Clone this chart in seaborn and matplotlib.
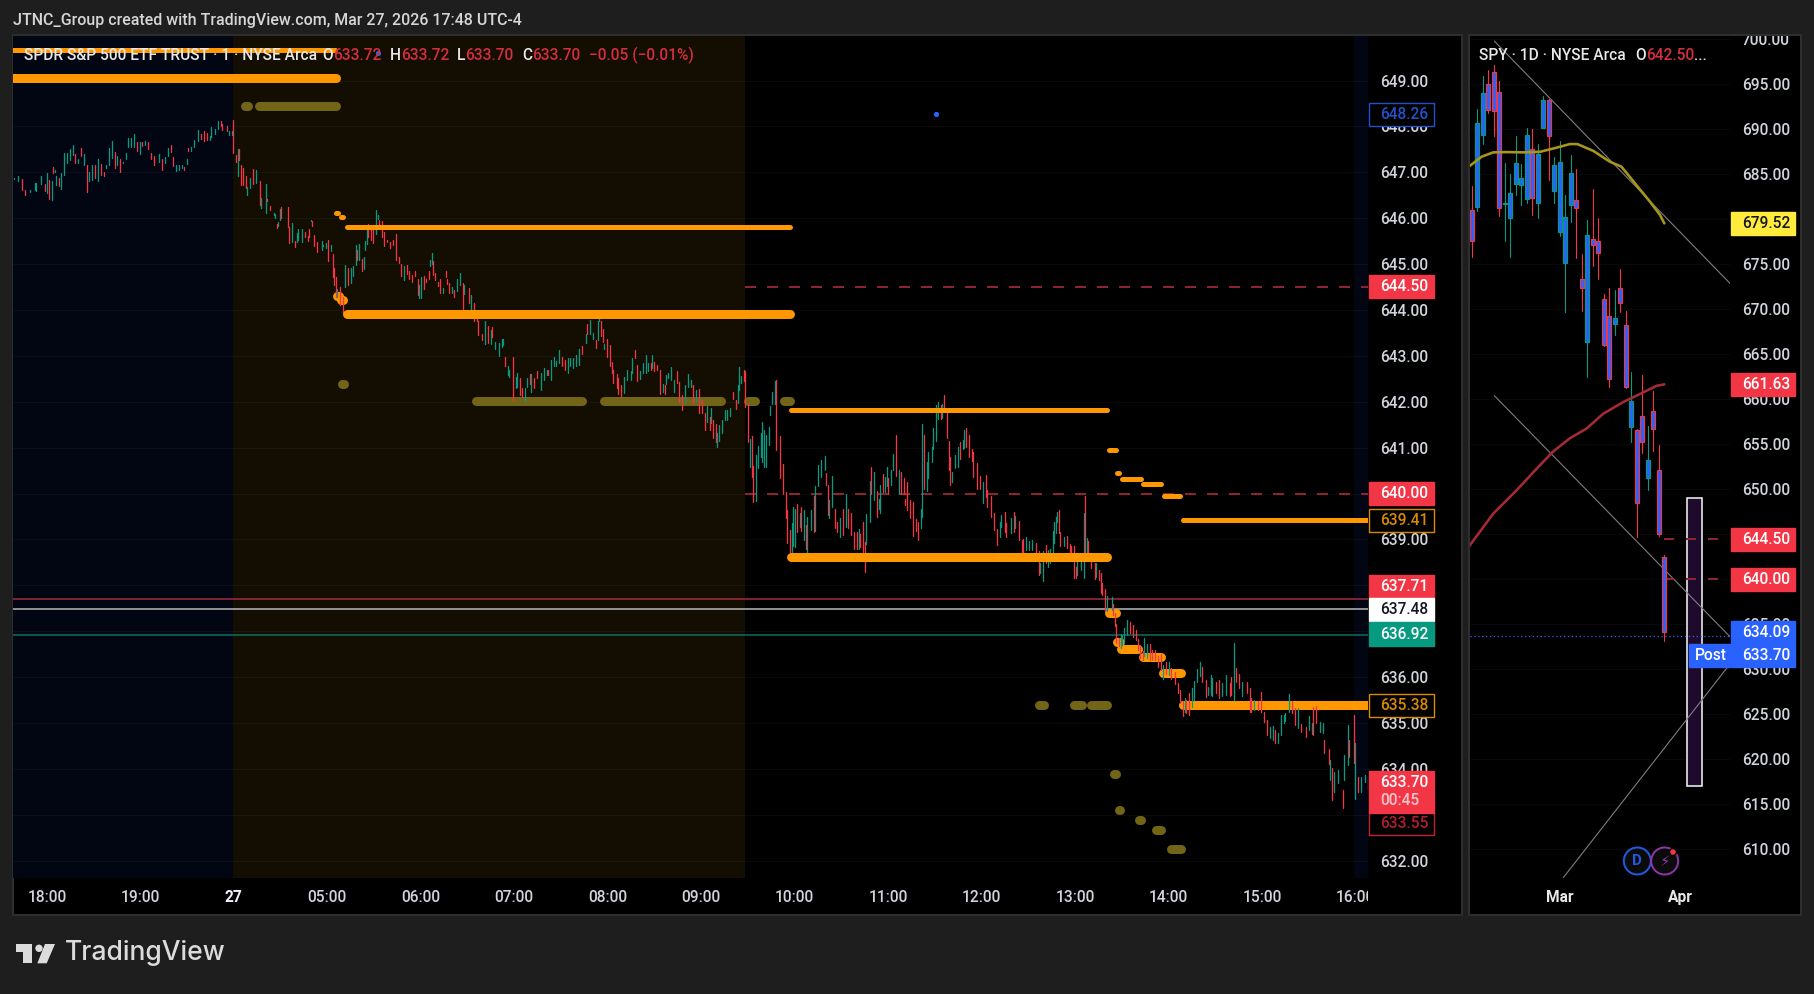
import numpy as np
import pandas as pd
import seaborn as sns
import matplotlib
matplotlib.use("Agg")
import matplotlib.pyplot as plt
from matplotlib.patches import Rectangle, Circle, Polygon
from matplotlib.transforms import Bbox, IdentityTransform, blended_transform_factory

# one minute candles: (minute after 18:00, low, high, direction)
overnight_bars = [
    (-21,646.85,646.87,'u'),(-19,646.80,646.92,'u'),(-16,646.62,646.86,'d'),(-14,646.51,646.62,'d'),(-11,646.56,646.62,'u'),
    (-8,646.62,646.76,'u'),(-7,646.59,646.76,'u'),(-4,646.75,646.91,'u'),(-1,646.59,646.75,'d'),(0,646.54,646.98,'u'),
    (1,646.42,646.83,'d'),(3,646.40,646.82,'u'),(4,646.98,647.12,'d'),(5,647.00,647.05,'u'),(6,646.72,646.93,'u'),
    (8,646.70,646.87,'d'),(9,646.64,646.98,'u'),(11,646.94,647.41,'u'),(13,647.20,647.41,'u'),(15,647.27,647.50,'u'),
    (17,647.38,647.60,'u'),(18,647.20,647.40,'d'),(20,647.20,647.29,'u'),(22,647.36,647.54,'d'),(24,647.16,647.40,'u'),
    (26,646.58,647.16,'d'),(27,646.80,647.00,'u'),(29,646.83,647.16,'u'),(31,646.87,647.16,'d'),(33,646.80,647.28,'u'),
    (35,646.94,647.18,'d'),(37,646.92,647.00,'d'),(38,647.09,647.16,'u'),(40,647.16,647.52,'u'),(42,647.31,647.68,'u'),
    (44,647.09,647.45,'d'),(45,647.16,647.36,'u'),(47,647.00,647.28,'d'),(49,647.21,647.23,'u'),(51,647.28,647.41,'u'),
    (52,647.56,647.74,'u'),(54,647.56,647.74,'u'),(56,647.55,647.84,'u'),(58,647.47,647.67,'d'),(60,647.40,647.67,'u'),
    (61,647.57,647.67,'d'),(63,647.60,647.68,'u'),(65,647.50,647.65,'d'),(67,647.28,647.43,'d'),(69,647.16,647.36,'d'),
    (72,647.23,647.40,'u'),(74,647.05,647.28,'d'),(76,647.21,647.34,'u'),(78,647.36,647.54,'u'),(80,647.45,647.60,'d'),
    (81,647.14,647.34,'d'),(83,647.03,647.17,'u'),(85,647.04,647.16,'u'),(87,647.09,647.16,'u'),(88,647.05,647.11,'d'),
    (90,647.18,647.28,'u'),(91,647.47,647.54,'d'),(93,647.47,647.56,'u'),(95,647.55,647.71,'u'),(97,647.68,647.92,'u'),
    (99,647.72,647.84,'d'),(101,647.69,647.89,'d'),(103,647.71,647.85,'d'),(105,647.71,647.79,'u'),(106,647.78,647.98,'u'),
    (108,647.84,647.94,'u'),(110,647.94,648.12,'u'),(112,648.01,648.12,'d'),(113,647.92,648.05,'d'),(116,647.89,648.00,'d'),
    (117,647.81,647.89,'u'),(119,647.81,647.89,'u'),(120,647.43,648.14,'d'),(122,647.23,647.38,'d'),(123,646.91,647.50,'u'),
    (124,647.27,647.50,'d'),(125,646.72,647.16,'d'),(126,646.72,647.09,'d'),(128,646.65,646.91,'d'),(129,646.51,646.69,'u'),
    (131,646.65,646.88,'u'),(133,646.75,647.07,'d'),(135,646.76,647.04,'u'),(137,646.29,646.81,'d'),(138,646.22,646.43,'u'),
    (141,646.11,646.75,'u'),(142,646.38,646.41,'d'),(144,646.18,646.27,'d'),(146,646.07,646.11,'u'),(147,646.00,646.09,'u'),
    (148,645.79,645.87,'d'),(149,645.83,645.92,'u'),(150,645.96,646.19,'u'),(151,646.00,646.24,'d'),(153,646.30,646.32,'u'),
    (155,645.80,646.25,'d'),(156,645.47,645.80,'d'),(158,645.49,645.89,'u'),(160,645.38,645.50,'d'),(161,645.49,645.67,'u'),
    (162,645.52,645.76,'u'),(164,645.49,645.76,'u'),(166,645.60,645.71,'d'),(168,645.51,645.61,'d'),(169,645.60,645.76,'d'),
    (170,645.94,645.96,'u'),(171,645.82,645.94,'d'),(172,645.39,645.63,'d'),(174,645.27,645.49,'d'),(177,645.31,645.50,'u'),
    (178,645.39,645.42,'u'),(180,645.34,645.45,'u'),(181,645.07,645.52,'d'),(183,645.29,645.42,'u'),(184,644.72,645.22,'d'),
    (185,644.54,644.91,'d'),(186,644.29,644.72,'d'),(187,644.29,644.46,'u'),(189,644.11,644.51,'d'),(191,643.93,644.29,'d'),
    (192,644.51,644.98,'u'),(194,644.54,644.91,'d'),(196,644.58,644.91,'u'),
]
premarket_bars = [
    (197,644.73,644.95,'u'),(199,644.98,645.42,'u'),(200,645.09,645.31,'d'),(201,645.09,645.44,'u'),(203,644.84,645.11,'d'),
    (204,644.90,645.16,'u'),(205,645.31,645.51,'u'),(206,645.43,645.82,'u'),(207,645.60,645.88,'d'),(209,645.53,645.76,'d'),
    (210,645.47,645.76,'d'),(212,645.65,646.18,'u'),(213,645.98,646.07,'u'),(214,645.88,645.96,'d'),(216,645.59,645.93,'d'),
    (217,645.40,645.71,'d'),(219,645.49,645.53,'d'),(221,645.36,645.49,'d'),(223,645.42,645.53,'d'),(225,645.09,645.66,'d'),
    (227,645.03,645.15,'d'),(228,644.73,645.00,'d'),(230,644.66,644.96,'u'),(232,644.79,644.98,'d'),(233,644.68,644.86,'d'),
    (235,644.61,644.76,'d'),(237,644.74,644.85,'d'),(239,644.33,644.67,'d'),(240,644.27,644.55,'u'),(241,644.27,644.71,'u'),
    (243,644.46,644.74,'d'),(244,644.60,644.68,'d'),(246,644.68,644.86,'d'),(247,644.95,645.08,'u'),(248,645.00,645.24,'u'),
    (249,644.76,645.07,'d'),(250,644.66,644.80,'d'),(252,644.52,644.62,'d'),(253,644.38,644.68,'d'),(255,644.38,644.47,'u'),
    (257,644.71,644.84,'d'),(258,644.57,644.68,'d'),(259,644.38,644.58,'d'),(261,644.38,644.50,'u'),(262,644.28,644.44,'d'),
    (264,644.42,644.68,'u'),(266,644.55,644.80,'u'),(268,644.02,644.58,'d'),(269,644.35,644.55,'u'),(272,644.15,644.47,'d'),
    (273,644.00,644.33,'u'),(275,643.75,644.15,'d'),(277,643.75,643.93,'d'),(278,643.46,643.75,'d'),(280,643.35,643.47,'d'),
    (282,643.26,643.76,'u'),(284,643.27,643.65,'d'),(286,643.26,643.56,'u'),(287,643.42,643.64,'d'),(289,643.16,643.31,'u'),
    (291,643.00,643.27,'u'),(293,643.20,643.37,'u'),(294,643.24,643.37,'u'),(295,642.79,642.98,'d'),(297,642.58,642.77,'u'),
    (298,642.55,642.69,'u'),(300,642.04,642.98,'d'),(302,642.31,642.55,'u'),(303,642.33,642.62,'u'),(305,642.15,642.51,'d'),
    (306,642.11,642.29,'d'),(308,642.02,642.29,'u'),(309,642.33,642.51,'u'),(311,642.39,642.61,'d'),(312,642.22,642.61,'u'),
    (314,642.29,642.51,'d'),(316,642.51,642.66,'d'),(318,642.26,642.62,'u'),(320,642.47,642.73,'u'),(322,642.58,642.69,'u'),
    (323,642.58,642.69,'d'),(325,642.47,642.91,'u'),(327,642.79,642.98,'u'),(328,642.79,642.89,'u'),(330,642.84,643.13,'u'),
    (332,642.77,642.98,'d'),(334,642.69,642.91,'d'),(336,642.62,642.95,'u'),(337,642.77,642.95,'u'),(339,642.73,642.96,'u'),
    (341,642.79,643.02,'u'),(343,642.80,643.16,'u'),(345,643.04,643.22,'d'),(347,643.29,643.47,'u'),(348,643.47,643.70,'d'),
    (350,643.47,643.78,'u'),(352,643.36,643.49,'u'),(354,643.18,643.35,'d'),(355,643.35,643.75,'u'),(356,643.75,643.89,'u'),
    (357,643.43,643.75,'d'),(358,643.31,643.58,'d'),(359,643.15,643.26,'u'),(361,642.97,643.36,'d'),(363,642.77,643.24,'d'),
    (364,642.62,642.87,'d'),(365,642.40,642.69,'d'),(367,642.29,642.61,'d'),(368,642.18,642.51,'d'),(370,642.11,642.37,'d'),
    (372,642.20,642.55,'u'),(374,642.47,642.69,'u'),(376,642.47,642.66,'u'),(377,642.62,642.96,'u'),(379,642.95,643.13,'d'),
    (380,642.46,642.80,'d'),(382,642.49,642.66,'u'),(384,642.63,642.84,'u'),(386,642.62,643.02,'u'),(387,642.68,642.85,'u'),
    (389,642.69,642.85,'d'),(390,642.73,643.02,'u'),(391,642.68,642.86,'d'),(393,642.69,642.80,'d'),(395,642.18,642.69,'d'),
    (397,642.22,642.39,'u'),(398,642.17,642.37,'d'),(399,642.39,642.58,'u'),(400,642.51,642.63,'u'),(402,642.47,642.75,'u'),
    (404,642.22,642.47,'u'),(406,642.40,642.68,'d'),(407,642.00,642.44,'d'),(409,641.81,642.15,'d'),(411,641.97,642.37,'u'),
    (413,642.33,642.61,'u'),(415,642.33,642.47,'u'),(416,641.97,642.37,'d'),(418,642.00,642.26,'u'),(420,641.75,642.27,'d'),
    (422,641.75,642.04,'d'),(424,641.38,641.76,'d'),(425,641.57,641.91,'u'),(427,641.38,641.67,'d'),(428,641.53,641.86,'u'),
    (429,641.22,641.60,'d'),(431,641.13,641.51,'d'),(432,641.02,641.31,'u'),(433,641.15,641.49,'u'),(435,641.31,641.60,'u'),
    (437,641.60,641.82,'u'),(438,641.60,641.81,'u'),(440,641.69,641.86,'u'),(442,642.06,642.22,'d'),(444,641.84,642.04,'d'),
    (445,641.98,642.37,'u'),(446,642.26,642.76,'u'),
]
midday_bars = [
    (447,642.40,642.56,'u'),(449,642.46,642.69,'d'),(450,641.89,642.68,'d'),(452,641.13,641.96,'d'),(453,640.58,641.18,'u'),
    (454,640.37,641.25,'d'),(455,639.82,640.60,'d'),(457,639.84,640.84,'u'),(458,640.55,641.03,'u'),(460,640.80,641.31,'u'),
    (461,640.69,641.56,'u'),(462,640.58,641.38,'u'),(463,640.57,641.27,'u'),(465,641.06,641.46,'u'),(466,641.71,641.91,'u'),
    (467,641.96,642.22,'u'),(469,641.96,642.46,'u'),(470,640.95,642.47,'d'),(472,640.33,641.25,'d'),(474,640.00,640.64,'d'),
    (476,639.46,640.04,'d'),(477,638.93,639.65,'d'),(479,638.62,639.20,'d'),(480,638.69,639.36,'u'),(481,638.85,639.71,'u'),
    (482,638.84,639.67,'u'),(483,639.17,639.78,'d'),(485,639.27,639.58,'u'),(486,639.18,639.71,'d'),(488,638.98,639.64,'u'),
    (489,638.80,639.31,'d'),(490,638.69,639.49,'u'),(492,639.20,639.64,'u'),(494,639.17,639.94,'d'),(495,639.19,640.16,'u'),
    (497,640.16,640.62,'u'),(499,640.37,640.73,'u'),(501,640.51,640.82,'u'),(502,640.18,640.44,'d'),(503,639.53,640.18,'d'),
    (504,639.46,639.86,'u'),(506,639.71,640.38,'u'),(508,639.24,639.67,'d'),(509,639.17,639.38,'d'),(511,639.06,639.46,'u'),
    (513,639.09,639.66,'d'),(515,639.27,640.00,'u'),(516,639.24,639.67,'d'),(518,639.09,639.57,'d'),(520,638.80,639.17,'d'),
    (522,638.80,639.17,'d'),(523,638.79,639.22,'u'),(524,638.84,639.11,'d'),(526,638.73,639.38,'d'),(527,638.30,638.95,'d'),
    (528,638.91,639.55,'u'),(530,639.38,640.28,'u'),(531,640.00,640.58,'d'),(533,639.86,640.47,'u'),(535,639.48,640.06,'d'),
    (536,639.67,639.89,'u'),(537,639.57,640.18,'u'),(539,640.04,640.42,'d'),(540,640.04,640.36,'u'),(541,640.16,640.58,'u'),
    (542,640.00,640.35,'d'),(544,640.18,640.51,'u'),(545,640.51,640.87,'u'),(547,640.38,641.27,'d'),(549,640.00,640.51,'u'),
    (550,640.00,640.47,'d'),(552,640.00,640.33,'d'),(553,639.75,639.89,'d'),(554,639.64,640.26,'d'),(556,639.46,639.86,'d'),
    (558,639.07,639.82,'d'),(560,639.19,639.44,'d'),(561,638.98,639.38,'d'),(563,639.24,639.67,'u'),(564,639.49,641.51,'u'),
    (565,640.11,641.27,'d'),(567,640.06,640.69,'u'),(568,640.35,640.91,'u'),(570,640.69,641.02,'u'),(571,640.98,641.42,'u'),
    (573,641.14,641.93,'u'),(574,641.62,642.00,'u'),(576,641.62,641.93,'d'),(577,641.64,641.96,'u'),(578,641.82,642.15,'d'),
    (580,641.20,641.75,'d'),(581,640.51,641.14,'d'),(582,640.18,640.80,'d'),(583,640.26,640.47,'u'),(585,640.55,640.84,'u'),
    (587,640.57,641.01,'u'),(588,640.76,641.13,'d'),(590,640.98,641.16,'u'),(591,641.00,641.38,'u'),(592,641.02,641.42,'d'),
    (594,640.80,641.27,'d'),(596,640.71,640.98,'d'),(597,640.37,640.91,'d'),(599,640.11,640.66,'d'),(601,640.11,640.38,'d'),
    (603,639.80,640.26,'u'),(605,639.93,640.40,'d'),(606,639.70,640.07,'d'),(608,639.49,639.94,'d'),(610,639.20,639.57,'d'),
    (612,638.87,639.22,'d'),(614,639.06,639.39,'u'),(615,639.27,639.53,'u'),(617,639.17,639.60,'d'),(618,639.06,639.35,'d'),
    (621,639.13,639.46,'u'),(623,639.17,639.60,'d'),(624,639.24,639.51,'u'),(626,638.98,639.40,'d'),(628,638.58,638.98,'d'),
    (629,638.69,639.02,'d'),(631,638.77,639.06,'u'),
]
afternoon_bars = [
    (633,638.77,638.97,'u'),(635,638.77,638.99,'u'),(637,638.66,638.93,'d'),(639,638.23,638.74,'d'),(640,638.26,638.48,'u'),
    (642,638.10,638.74,'u'),(644,638.48,638.88,'d'),(645,638.41,638.77,'u'),(646,638.48,638.80,'u'),(648,638.70,639.19,'u'),
    (649,638.92,639.37,'u'),(650,639.14,639.50,'u'),(651,639.37,639.59,'u'),(652,639.14,639.65,'d'),(653,638.85,639.17,'d'),
    (655,638.85,639.06,'u'),(657,638.81,639.08,'d'),(659,638.69,638.90,'d'),(660,638.66,638.85,'d'),(662,638.17,638.86,'d'),
    (663,638.17,638.41,'d'),(664,638.23,638.50,'u'),(666,638.34,638.59,'u'),(668,638.17,639.57,'u'),(669,638.59,639.95,'d'),
    (670,638.55,639.03,'u'),(671,638.55,638.96,'d'),(673,638.37,638.70,'d'),(675,638.14,638.48,'d'),(676,638.19,638.48,'u'),
    (678,638.12,638.34,'d'),(679,637.83,638.26,'d'),(680,637.79,638.05,'d'),(682,637.45,637.92,'d'),(683,637.45,637.76,'u'),
    (686,637.46,637.74,'u'),(687,637.36,637.60,'d'),(688,637.12,637.39,'d'),(689,636.74,637.16,'d'),(691,636.67,636.85,'d'),
    (692,636.63,636.94,'u'),(693,636.70,636.92,'u'),(694,636.74,637.06,'u'),(696,636.92,637.25,'u'),(698,636.96,637.21,'d'),
    (700,636.87,637.14,'d'),(702,636.80,637.03,'d'),(703,636.59,636.83,'d'),(704,636.41,636.70,'d'),(706,636.37,636.56,'d'),
    (707,636.45,636.85,'u'),(709,636.41,636.72,'u'),(711,636.37,636.72,'d'),(712,636.37,636.59,'d'),(714,636.37,636.59,'d'),
    (716,636.23,636.45,'d'),(718,636.16,636.51,'d'),(719,635.97,636.27,'u'),(721,636.06,636.34,'d'),(723,636.05,636.34,'u'),
    (724,635.97,636.21,'d'),(727,635.85,636.12,'d'),(729,635.65,635.87,'d'),(730,635.43,635.72,'d'),(732,635.15,635.49,'d'),
    (733,635.25,635.54,'u'),(734,635.21,635.50,'d'),(736,635.17,635.65,'d'),(738,635.36,635.76,'u'),(739,635.50,635.92,'u'),
    (741,635.90,636.17,'u'),(743,636.03,636.34,'u'),(744,635.90,636.23,'d'),(747,635.57,635.94,'d'),(748,635.61,635.79,'u'),
]
closing_bars = [
    (750,635.61,636.05,'u'),(751,635.58,635.98,'u'),(753,635.65,635.90,'d'),(755,635.54,635.94,'d'),(757,635.58,635.87,'u'),
    (760,635.61,636.05,'u'),(762,635.58,635.87,'d'),(763,635.61,636.01,'d'),(765,635.50,636.75,'u'),(766,635.90,636.19,'d'),
    (768,635.76,636.07,'d'),(770,635.58,635.90,'u'),(773,635.65,635.90,'d'),(775,635.25,635.76,'d'),(776,635.25,635.54,'d'),
    (778,635.28,635.50,'u'),(780,635.28,635.47,'d'),(782,635.25,635.68,'d'),(784,635.03,635.25,'d'),(786,634.74,635.07,'d'),
    (788,634.67,634.92,'u'),(790,634.63,634.94,'u'),(791,634.56,634.85,'d'),(793,634.56,634.78,'u'),(795,634.74,635.18,'u'),
    (797,634.99,635.18,'u'),(798,635.05,635.21,'u'),(800,635.25,635.63,'u'),(802,635.21,635.47,'d'),(804,634.96,635.32,'d'),
    (806,634.89,635.32,'u'),(808,634.81,634.98,'d'),(811,634.70,634.92,'d'),(813,634.85,635.15,'u'),(815,634.76,634.99,'u'),
    (816,634.74,635.36,'d'),(818,634.99,635.37,'d'),(820,634.81,635.03,'u'),(822,634.78,634.99,'u'),(823,634.34,634.63,'d'),
    (826,634.10,634.43,'d'),(827,633.76,634.19,'u'),(828,633.32,634.01,'d'),(829,633.50,633.94,'u'),(832,633.69,633.98,'u'),
    (835,633.14,633.55,'d'),(836,633.76,634.30,'u'),(838,634.08,634.96,'u'),(839,634.27,634.63,'d'),(842,634.12,635.18,'d'),
    (843,633.34,634.56,'u'),(845,633.50,633.83,'d'),(847,633.50,633.83,'u'),(849,633.72,633.87,'u'),(851,633.54,633.83,'d'),
]

# indicator levels on the 1 minute chart: (price, first minute, last minute)
thick_levels_top = [(643.91,193,479),(638.61,479.7,683.3)]
thin_levels_top = [(645.80,193,478.8),(641.82,479.7,683.3)]
thin_levels = [(649.66,-30,185.9),(646.12,186.5,187.8),(646.03,189.6,190.8),(640.94,684,689),(640.44,689.4,690.5),
               (640.31,693,705.2),(640.20,706.5,717.5),(639.94,720,730.3),(639.42,732.3,860)]
thick_levels = [(649.05,-30,186.5),(644.31,187,188.1),(644.22,189.7,190.8),(637.40,684,689),(636.76,689.7,691.7),
                (636.61,692.3,703.3),(636.43,705.9,718.1),(636.08,719.4,731),(635.39,732.3,860)]
olive_levels = [(648.44,127.9,129.8),(648.44,136.9,186.5),(642.38,190,191.1),(642.01,276.7,345),(642.01,359.2,434.6),
                (642.01,452,456.5),(642.01,474.6,479),(635.39,638.9,642.7),(635.39,662,667.2),(635.39,673,683.3),
                (633.90,687.8,689.1),(633.10,690.5,691.6),(632.88,703.9,705.2),(632.66,714.9,718.1),(632.25,724.5,731)]
flat_lines = [(637.71,'#9c2a38'),(637.48,'#b2b2b2'),(636.92,'#0b6b5b')]
dashed_prices = [644.50,640.00]
blue_dots = [(213,649.60),(573,648.26)]

time_ticks = [-0.1,60.1,120.3,180.6,240.8,301.0,361.3,421.5,481.7,542.0,602.2,662.4,722.7,782.9,843.1]
time_labels = ['18:00','19:00','27','05:00','06:00','07:00','08:00','09:00','10:00','11:00','12:00','13:00','14:00','15:00','16:00']
left_prices = list(range(632,650))
right_prices = list(range(610,705,5))

# daily candles: day number with Mar 27 as 0
day_num = list(range(-35,1))
day_open = [681.0,681.4,689.4,695.0,696.4,694.2,681.73,680.1,683.95,683.85,682.3,687.85,681.85,690.2,693.3,683.1,678.6,675.1,681.6,682.1,673.4,666.4,677.8,677.55,671.2,669.3,668.4,672.4,668.3,656.95,656.6,658.1,651.3,658.65,652.1,642.44]
day_close = [677.6,690.66,694.0,692.1,692.0,681.3,681.85,682.9,686.3,684.55,689.4,682.4,687.3,693.25,689.3,686.0,686.4,680.3,685.1,681.3,672.4,678.3,677.2,676.3,666.0,662.3,669.0,670.75,661.4,659.8,648.5,655.3,653.25,656.7,645.03,634.1]
day_high = [683.7,692.3,695.9,696.6,697.2,695.4,686.3,685.0,689.25,686.2,690.1,690.0,688.4,693.7,693.4,686.95,688.7,682.7,687.15,685.6,676.15,679.9,683.4,680.1,671.7,672.4,672.15,674.5,669.8,663.0,656.7,662.7,657.0,660.95,654.9,642.7]
day_low = [675.8,680.9,688.4,691.8,689.25,680.4,677.6,675.8,682.7,681.6,681.85,680.5,680.1,690.1,684.4,681.8,678.1,669.7,679.75,675.7,669.8,662.5,674.8,673.4,665.95,661.4,667.1,669.7,661.3,655.3,644.7,654.0,649.9,654.3,644.85,633.18]

yellow_ma_day = [-35.45,-33.2,-31.1,-28.7,-25.6,-22.6,-19.6,-17.2,-15.8,-12.9,-9.9,-7.8,-5.6,-2.6,-0.8,0]
yellow_ma = [685.9,686.96,687.44,687.47,687.44,687.5,687.96,688.36,688.36,687.6,686.4,685.85,684.2,681.95,680.5,679.55]
red_ma_day = [-35.45,-31.1,-26.85,-23.2,-20.2,-17.2,-14.1,-11.1,-7.45,-4.4,-1.4,0]
red_ma = [643.7,647.3,649.9,652.3,654.2,655.66,656.77,658.4,659.7,660.6,661.5,661.66]
trend_lines = [((-30.9,11.94),(699.8,672.88)),((-30.9,11.94),(660.4,633.62)),((-18.36,11.94),(606.85,630.59))]

W, H = 1814, 994
UP, DOWN, BLUE = '#089981', '#f23645', '#2962ff'
ORANGE, OLIVE = '#ff9800', '#726518'
PAGE, FRAME, TEXT = '#1e1e1e', '#2e2e2e', '#d1d4dc'
PT = 0.72  # one pixel in points at dpi 100
TXT = 15.5

sns.set_theme(style="dark")
plt.rcParams['font.family'] = ['Roboto', 'DejaVu Sans']
plt.rcParams['font.weight'] = 500

fig = plt.figure(figsize=(W / 100, H / 100), dpi=100, facecolor=PAGE)


def fx(x):
    return x / W


def fy(y):
    return 1 - y / H


def frame(x0, y0, x1, y1):
    fig.patches.append(Rectangle((fx(x0), fy(y1)), fx(x1 - x0), (y1 - y0) / H, transform=fig.transFigure,
                                 fc='black', ec=FRAME, lw=2 * PT, zorder=-5))


def page_text(x, y, s, color=TEXT, size=TXT, **kw):
    fig.text(fx(x), fy(y), s, color=color, fontsize=size * PT, va='center', ha=kw.pop('ha', 'left'), **kw)


def make_axes(x0, y0, x1, y1):
    ax = fig.add_axes([fx(x0), fy(y1), (x1 - x0) / W, (y1 - y0) / H], facecolor='black')
    for sp in ax.spines.values():
        sp.set_visible(False)
    return ax


def price_tag(ax, px_unit, x0, width, price, text, fc, ec, tc, text_x, height=23):
    tr = blended_transform_factory(IdentityTransform(), ax.transData)
    h = height / px_unit
    ax.add_patch(Rectangle((x0, price - h / 2), width, h, transform=tr, fc=fc, ec=ec, lw=1.4 * PT, clip_on=False, zorder=8))
    if text:
        ax.text(text_x, price, text, transform=tr, color=tc, fontsize=TXT * PT, va='center', ha='left', clip_on=False, zorder=9)


def level_lines(ax, levels, color, width, zorder):
    for price, a, b in levels:
        ax.plot([a, b], [price, price], color=color, lw=width * PT, solid_capstyle='round', zorder=zorder)


def style_axis(ax, x_clip, y_clip):
    ax.yaxis.tick_right()
    ax.tick_params(axis='both', length=0, colors=TEXT, labelsize=TXT * PT)
    ax.tick_params(axis='y', pad=8.5)
    ax.tick_params(axis='x', pad=9)
    ax.grid(axis='y', color='white', alpha=0.035, lw=0.7)
    ax.grid(axis='x', visible=False)
    ax.set_xlabel('')
    ax.set_ylabel('')
    for lab in ax.get_xticklabels():
        lab.set_clip_on(True)
        lab.set_clip_box(x_clip)
    for lab in ax.get_yticklabels():
        lab.set_clip_on(True)
        lab.set_clip_box(y_clip)


frame(13, 35, 1462, 915)
frame(1469, 35, 1801, 915)

page_text(13, 20, 'JTNC_Group created with TradingView.com, Mar 27, 2026 17:48 UTC-4', color='#d6d6d6', size=16)

# left chart, 1 minute
ax = make_axes(13, 36, 1368, 877.7)
ax.axvspan(-30, 120, color='#020613', lw=0, zorder=0)
ax.axvspan(120, 450, color='#140d02', lw=0, zorder=0)
ax.axvspan(842, 860, color='#020613', lw=0, zorder=0)

bars = pd.DataFrame(overnight_bars + premarket_bars + midday_bars + afternoon_bars + closing_bars,
                    columns=['minute', 'low', 'high', 'dir'])
bars['bar'] = np.arange(len(bars))
long_bars = bars.melt(id_vars=['bar', 'minute', 'dir'], value_vars=['low', 'high'], value_name='price')

for price, col in flat_lines:
    ax.axhline(price, color=col, lw=1.6 * PT, zorder=2)
ax.hlines(dashed_prices, 449.7, 860, colors='#8f2233', linewidths=2 * PT, linestyles=(0, (5.5, 5.5)), zorder=2)
level_lines(ax, olive_levels, OLIVE, 9, 2)
level_lines(ax, thin_levels, ORANGE, 5, 2)
level_lines(ax, thick_levels, ORANGE, 9, 2)

sns.lineplot(data=long_bars, x='minute', y='price', units='bar', estimator=None, hue='dir', sort=False,
             palette={'u': UP, 'd': DOWN}, legend=False, lw=1.3 * PT, ax=ax, zorder=3)

level_lines(ax, thin_levels_top, ORANGE, 5, 4)
level_lines(ax, thick_levels_top, ORANGE, 9, 4)
sns.scatterplot(x=[p[0] for p in blue_dots], y=[p[1] for p in blue_dots], color=BLUE, s=14, lw=0, ax=ax, zorder=5, legend=False)

ax.set_xlim(-21.9, 851.2)
ax.set_ylim(631.63, 649.97)
ax.set_xticks(time_ticks, time_labels)
ax.set_yticks(left_prices, [f'{p:.2f}' for p in left_prices])
style_axis(ax, Bbox([[0, 0], [1368, H]]), Bbox([[1368, 0], [1462, H]]))
ax.get_xticklabels()[2].set_fontweight('bold')
ax.get_xticklabels()[2].set_color('#f0f3fa')

unit = 45.88
for price, text, fc, ec, tc in [
    (648.27, '648.26', 'black', '#2252c9', '#2252c9'),
    (644.52, '644.50', DOWN, DOWN, 'white'),
    (640.00, '640.00', DOWN, DOWN, 'white'),
    (639.42, '639.41', 'black', '#d98a00', '#d98a00'),
    (637.98, '637.71', DOWN, DOWN, 'white'),
    (637.47, '637.48', 'white', 'white', '#131722'),
    (636.94, '636.92', UP, UP, 'white'),
    (635.39, '635.38', 'black', '#d98a00', '#d98a00'),
    (632.82, '633.55', 'black', '#c3202f', '#b01f2c'),
]:
    price_tag(ax, unit, 1369, 65, price, text, fc, ec, tc, 1380)
price_tag(ax, unit, 1369, 65, 633.50, '', DOWN, DOWN, 'white', 1380, height=42)
ax.text(1380, 633.71, '633.70', transform=blended_transform_factory(IdentityTransform(), ax.transData),
        color='white', fontsize=TXT * PT, va='center', clip_on=False, zorder=9)
ax.text(1380, 633.31, '00:45', transform=blended_transform_factory(IdentityTransform(), ax.transData),
        color='#fcc5ca', fontsize=TXT * PT, va='center', clip_on=False, zorder=9)

# header of the left chart
page_text(24, 55.7, 'SPDR S&P 500 ETF TRUST · 1 · NYSE Arca', color='#e8e8e8', zorder=10)
for x, s in [(322, 'O'), (390, 'H'), (457, 'L'), (522, 'C')]:
    page_text(x, 55.7, s, color='#e8e8e8', zorder=10)
for x, s in [(333.5, '633.72'), (401, '633.72'), (465, '633.70'), (532, '633.70'), (589, '−0.05 (−0.01%)')]:
    page_text(x, 55.7, s, color='#d32f3c', zorder=10)

# right chart, daily
ax2 = make_axes(1470, 36, 1730, 877.7)
days = pd.DataFrame({'day': day_num, 'open': day_open, 'close': day_close, 'high': day_high, 'low': day_low})
days['dir'] = np.where(days['close'] >= days['open'], 'u', 'd')
long_days = days.melt(id_vars=['day', 'dir'], value_vars=['low', 'high'], value_name='price')
sns.lineplot(data=long_days, x='day', y='price', units='day', estimator=None, hue='dir', sort=False,
             palette={'u': UP, 'd': DOWN}, legend=False, lw=1.1 * PT, ax=ax2, zorder=3)
ax2.bar(days['day'], (days['close'] - days['open']).abs(), bottom=days[['open', 'close']].min(axis=1), width=0.72,
        color=BLUE, edgecolor=[UP if d == 'u' else DOWN for d in days['dir']], lw=1.2 * PT, zorder=4)

sns.lineplot(x=yellow_ma_day, y=yellow_ma, color='#a8961c', lw=2.6 * PT, ax=ax2, zorder=5, estimator=None)
sns.lineplot(x=red_ma_day, y=red_ma, color='#a42a35', lw=2.6 * PT, ax=ax2, zorder=5, estimator=None)

ax2.add_patch(Rectangle((4.06, 617.03), 2.84, 31.97, fc='#1e0a2a', ec='white', lw=1.5 * PT, zorder=2))
for tx, ty in trend_lines:
    sns.lineplot(x=list(tx), y=list(ty), color='#7f7f7f', lw=1.1 * PT, ax=ax2, zorder=3, estimator=None)
ax2.hlines(dashed_prices, 0, 11.94, colors='#8f2233', linewidths=2 * PT, linestyles=(0, (5, 6)), zorder=3)
ax2.hlines([633.66], -36, 12, colors=BLUE, linewidths=1.3 * PT, linestyles=(0, (1, 2)), zorder=3)

ax2.set_xlim(-35.33, 11.94)
ax2.set_ylim(606.84, 700.37)
ax2.set_xticks([-19, 3], ['Mar', 'Apr'])
ax2.set_yticks(right_prices, [f'{p:.2f}' for p in right_prices])
style_axis(ax2, Bbox([[1470, 0], [1800, H - 36]]), Bbox([[1730, 0], [1800, H - 36]]))
for lab in ax2.get_xticklabels():
    lab.set_fontweight('bold')
    lab.set_color('#e8e8e8')

unit2 = 9.0
for price, text, fc, tc in [
    (679.52, '679.52', '#ffeb3b', '#131722'),
    (661.63, '661.63', DOWN, 'white'),
    (644.44, '644.50', DOWN, 'white'),
    (640.00, '640.00', DOWN, 'white'),
    (634.07, '634.09', BLUE, 'white'),
    (631.52, '633.70', BLUE, 'white'),
]:
    price_tag(ax2, unit2, 1731, 64, price, text, fc, fc, tc, 1741.7)
price_tag(ax2, unit2, 1689, 41, 631.52, 'Post', BLUE, BLUE, 'white', 1695)

page_text(1479, 55.7, 'SPY · 1D · NYSE Arca', color='#e8e8e8', zorder=10)
page_text(1635, 55.7, 'O', color='#e8e8e8', zorder=10)
page_text(1646, 55.7, '642.50', color='#d32f3c', zorder=10)
page_text(1694, 55.7, '...', color='#e8e8e8', zorder=10)

# badges under the daily chart
for cx, col in [(1637.3, '#1f5ae0'), (1664.7, '#8e35a8')]:
    fig.patches.append(Circle((cx, H - 861), 13.5, transform=IdentityTransform(), fc='#0b0b0b', ec=col, lw=2 * PT, zorder=6))
page_text(1637.3, 861, 'D', color='#1f5ae0', size=15, ha='center', fontweight='bold', zorder=7)
page_text(1664.7, 861, '⚡', color='#8e35a8', size=15, ha='center', family='DejaVu Sans', zorder=7)
fig.patches.append(Circle((1673, H - 852), 3.5, transform=IdentityTransform(), fc=DOWN, ec='black', lw=1, zorder=7))

# TradingView logo
logo = '#dcdcdc'
fig.patches.append(Polygon([(15.7, H - 944), (31.7, H - 944), (31.7, H - 963.3), (23.3, H - 963.3), (23.3, H - 952.3), (15.7, H - 952.3)],
                           closed=True, transform=IdentityTransform(), fc=logo, ec='none'))
fig.patches.append(Circle((39, H - 948.3), 3.7, transform=IdentityTransform(), fc=logo, ec='none'))
fig.patches.append(Polygon([(45, H - 944), (55, H - 944), (46.7, H - 963.3), (37.3, H - 963.3)],
                           closed=True, transform=IdentityTransform(), fc=logo, ec='none'))
page_text(65, 953, 'TradingView', color=logo, size=26.5, fontweight='medium', family='Inter')

fig.savefig('out.png', dpi=100, facecolor=PAGE)
